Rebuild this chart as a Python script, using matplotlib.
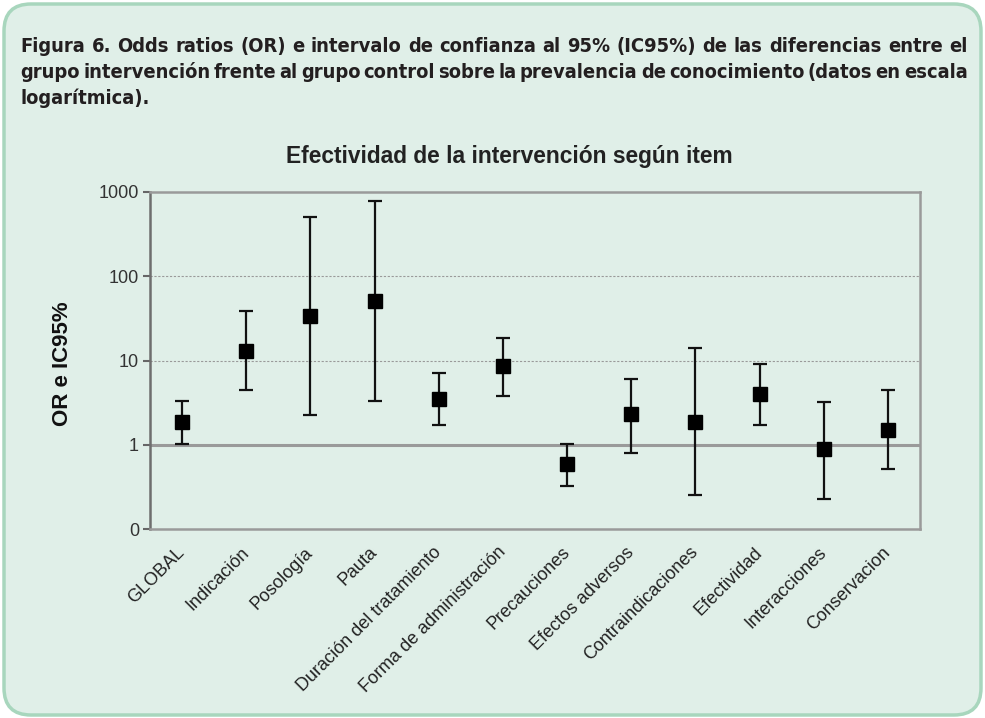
import matplotlib
matplotlib.use("Agg")
import matplotlib.pyplot as plt
from matplotlib import font_manager as fm
from matplotlib.patches import FancyBboxPatch
import numpy as np

# ---- data -------------------------------------------------------------
items = ["GLOBAL", "Indicación", "Posología", "Pauta", "Duración del tratamiento",
         "Forma de administración", "Precauciones", "Efectos adversos",
         "Contraindicaciones", "Efectividad", "Interacciones", "Conservacion"]
odds_ratio = [1.85, 12.9, 34.0, 51.0, 3.5, 8.6, 0.59, 2.29, 1.85, 4.04, 0.88, 1.51]
ci_low     = [1.03, 4.5, 2.27, 3.3, 1.7, 3.8, 0.32, 0.79, 0.25, 1.7, 0.224, 0.52]
ci_high    = [3.33, 39.0, 510.0, 780.0, 7.2, 18.7, 1.03, 6.1, 14.2, 9.2, 3.2, 4.5]
y_ticks = [0.1, 1, 10, 100, 1000]
y_tick_labels = ["0", "1", "10", "100", "1000"]

caption_lines = [
    "Figura 6. Odds ratios (OR) e intervalo de confianza al 95% (IC95%) de las diferencias  entre el",
    "grupo intervención frente al grupo control sobre la prevalencia de conocimiento (datos en escala",
    "logarítmica).",
]
chart_title = "Efectividad de la intervención según item"
y_label = "OR e IC95%"

# ---- figure ------------------------------------------------------------
W, H = 985, 718
fig = plt.figure(figsize=(W / 100, H / 100), dpi=100)
fig.patch.set_facecolor("white")

BG = "#e0efe8"
box = FancyBboxPatch((0.04, 0.03), (W - 8) / 100, (H - 7) / 100,
                     boxstyle="round,pad=0,rounding_size=0.27",
                     transform=fig.dpi_scale_trans, facecolor=BG,
                     edgecolor="#a8d6bd", linewidth=2.5, zorder=-5)
fig.patches.append(box)


def px(x, y):
    return x / W, 1 - y / H


# caption font: narrow face if installed
def pick_caption_font():
    cands = [("Liberation Sans Narrow", "normal"), ("DejaVu Sans", "condensed"),
             ("Roboto", "condensed"), ("Open Sans", "condensed")]
    for fam, stretch in cands:
        try:
            p = fm.findfont(fm.FontProperties(family=fam, stretch=stretch, weight="bold"),
                            fallback_to_default=False)
        except Exception:
            continue
        name = p.lower()
        if "narrow" in name or "condensed" in name:
            return fam, stretch
    return "Liberation Sans", "normal"


cap_family, cap_stretch = pick_caption_font()
renderer = fig.canvas.get_renderer()

left_px, right_px = 20.5, 967.5
baselines = [52, 78, 104]
cap_size = 17.0


def word_widths(words, size):
    objs = [fig.text(0, 0, w, family=cap_family, stretch=cap_stretch, weight="bold",
                     size=size) for w in words]
    ws = [o.get_window_extent(renderer).width for o in objs]
    sp = fig.text(0, 0, "a a", family=cap_family, stretch=cap_stretch, weight="bold",
                  size=size).get_window_extent(renderer).width - \
        fig.text(0, 0, "aa", family=cap_family, stretch=cap_stretch, weight="bold",
                 size=size).get_window_extent(renderer).width
    for o in fig.texts[-(len(words) + 2):]:
        o.remove()
    return ws, sp


# shrink the size if the first line would not fit
w0, sp0 = word_widths(caption_lines[0].split(), cap_size)
natural = sum(w0) + sp0 * (len(w0) - 1)
if natural > (right_px - left_px):
    cap_size *= (right_px - left_px) / natural

for i, line in enumerate(caption_lines):
    words = line.split()
    ws, sp = word_widths(words, cap_size)
    if i < len(caption_lines) - 1 and len(words) > 1:
        gap = (right_px - left_px - sum(ws)) / (len(words) - 1)
    else:
        gap = sp
    x = left_px
    for w, wd in zip(words, ws):
        fig.text(*px(x, baselines[i]), w, family=cap_family, stretch=cap_stretch,
                 weight="bold", size=cap_size, color="#231f20",
                 ha="left", va="baseline")
        x += wd + gap

# ---- chart -------------------------------------------------------------
ax_l, ax_r, ax_t, ax_b = 150, 920, 192, 529
ax = fig.add_axes([ax_l / W, 1 - ax_b / H, (ax_r - ax_l) / W, (ax_b - ax_t) / H])
ax.set_facecolor(BG)
ax.set_yscale("log")
ax.set_ylim(0.1, 1000)
ax.set_xlim(-0.5, len(items) - 0.5)

x = np.arange(len(items))
orr = np.array(odds_ratio)
lo = np.array(ci_low)
hi = np.array(ci_high)

ax.axhline(1, color="#9a9a9a", lw=2.2, zorder=1)
for g in (10, 100):
    ax.axhline(g, color="#9a9a9a", lw=0.8, ls=(0, (2, 1.5)), zorder=1)

ax.errorbar(x, orr, yerr=[orr - lo, hi - orr], fmt="s", color="black",
            ecolor="#111111", ms=10, capsize=5, elinewidth=1.6, capthick=1.6,
            zorder=3)

ax.set_yticks(y_ticks)
ax.set_yticklabels(y_tick_labels)
ax.yaxis.set_minor_locator(matplotlib.ticker.NullLocator())
ax.tick_params(axis="y", direction="out", length=5, width=1.5, color="#666666",
               labelsize=13, labelcolor="#333333", pad=3)
ax.set_xticks(x)
ax.set_xticklabels(items, rotation=45, ha="right", va="center",
                   rotation_mode="anchor", family="Liberation Sans",
                   fontsize=13, color="#222222")
ax.tick_params(axis="x", length=0, pad=15)
for lab in ax.get_yticklabels():
    lab.set_family("Liberation Sans")

ax.spines["left"].set_color("#6e6e6e")
ax.spines["left"].set_linewidth(1.8)
for s in ("top", "bottom", "right"):
    ax.spines[s].set_color("#9a9a9a")
    ax.spines[s].set_linewidth(1.8)

fig.text(*px(509, 157), chart_title, family="Liberation Sans", weight="bold",
         size=16.4, color="#222222", ha="center", va="center")
fig.text(*px(62, 364), y_label, family="Liberation Sans", weight="bold",
         size=16, color="#111111", ha="center", va="center", rotation=90)

fig.savefig("out.png", dpi=100, facecolor=fig.get_facecolor())
